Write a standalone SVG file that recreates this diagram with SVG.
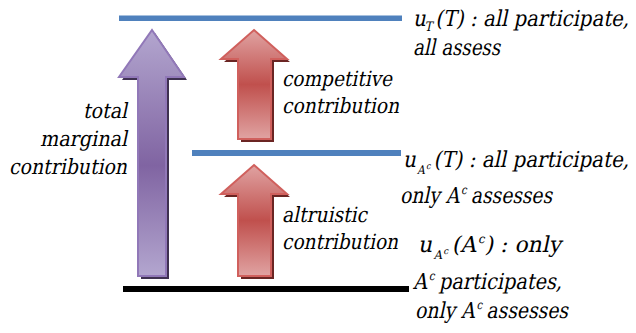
<svg xmlns="http://www.w3.org/2000/svg" width="636" height="333" viewBox="0 0 636 333">
<defs>
<linearGradient id="gP" x1="0" y1="0" x2="0" y2="1">
<stop offset="0" stop-color="#b3a6cf"/>
<stop offset="0.55" stop-color="#8064a2"/>
<stop offset="1" stop-color="#b3a6cf"/>
</linearGradient>
<linearGradient id="gR" x1="0" y1="0" x2="0" y2="1">
<stop offset="0" stop-color="#e0a3a2"/>
<stop offset="0.5" stop-color="#c0504d"/>
<stop offset="1" stop-color="#e0a3a2"/>
</linearGradient>
</defs>
<style>
text{font-size:22px;fill:#000}
.cap{font-size:21px}
.sub{font-size:13px}
.sup{font-size:12px}
.tiny{font-size:9px}
.ps{fill:#3f3151}
.pa{fill:url(#gP);stroke:#9178b8;stroke-width:2}
.rs{fill:#6b2523}
.ra{fill:url(#gR);stroke:#d0605d;stroke-width:2}
</style>
<g font-family="DejaVu Serif" font-style="normal">
<g id="level-T">
<rect x="119" y="15.5" width="283" height="5.5" fill="#4f81bd"/>
<text transform="translate(413,26) skewX(-12)" textLength="216" lengthAdjust="spacingAndGlyphs">u<tspan class="sub" dy="5">T</tspan><tspan dy="-5" dx="2">(T) : all participate,</tspan></text>
<text transform="translate(413,55) skewX(-12)" textLength="87" lengthAdjust="spacingAndGlyphs">all assess</text>
</g>
<g id="level-AcT">
<rect x="192" y="150" width="209" height="6" fill="#4f81bd"/>
<text transform="translate(403,167) skewX(-12)" textLength="226" lengthAdjust="spacingAndGlyphs">u<tspan class="sup" dy="7" dx="3">A</tspan><tspan class="tiny" dy="-5">c</tspan><tspan dy="-2" dx="3">(T) : all participate,</tspan></text>
<text transform="translate(400,203) skewX(-12)" textLength="152" lengthAdjust="spacingAndGlyphs">only A<tspan class="sup" dy="-9">c</tspan><tspan dy="9"> assesses</tspan></text>
</g>
<g id="level-AcAc">
<rect x="123" y="286" width="286" height="6" fill="#000"/>
<text transform="translate(418,252) skewX(-12)" textLength="143" lengthAdjust="spacingAndGlyphs">u<tspan class="sup" dy="7" dx="3">A</tspan><tspan class="tiny" dy="-5">c</tspan><tspan dy="-2" dx="3">(A</tspan><tspan class="sup" dy="-9">c</tspan><tspan dy="9" dx="2">) : only</tspan></text>
<text transform="translate(413,289) skewX(-12)" textLength="149" lengthAdjust="spacingAndGlyphs">A<tspan class="sup" dy="-9">c</tspan><tspan dy="9"> participates,</tspan></text>
<text transform="translate(415,318) skewX(-12)" textLength="153" lengthAdjust="spacingAndGlyphs">only A<tspan class="sup" dy="-9">c</tspan><tspan dy="9"> assesses</tspan></text>
</g>
<g id="connectors">
<g id="arrow-total">
<polygon class="ps" points="155,33 187,80 169,80 169,279 141,279 141,80 122,80"/>
<polygon class="pa" points="152,30 184,77 166,77 166,276 138,276 138,77 119,77"/>
<text class="cap" text-anchor="end" transform="translate(127,118) skewX(-12)" textLength="44" lengthAdjust="spacingAndGlyphs">total</text>
<text class="cap" text-anchor="end" transform="translate(127,146) skewX(-12)" textLength="87" lengthAdjust="spacingAndGlyphs">marginal</text>
<text class="cap" text-anchor="end" transform="translate(127,174) skewX(-12)" textLength="118" lengthAdjust="spacingAndGlyphs">contribution</text>
</g>
<g id="arrow-competitive">
<polygon class="rs" points="257,33 290,62 274,62 274,142 241,142 241,62 224,62"/>
<polygon class="ra" points="254,30 287,59 271,59 271,139 238,139 238,59 221,59"/>
<text class="cap" transform="translate(282,86) skewX(-12)" textLength="110" lengthAdjust="spacingAndGlyphs">competitive</text>
<text class="cap" transform="translate(282,113) skewX(-12)" textLength="117" lengthAdjust="spacingAndGlyphs">contribution</text>
</g>
<g id="arrow-altruistic">
<polygon class="rs" points="257,168 290,197 274,197 274,279 241,279 241,197 224,197"/>
<polygon class="ra" points="254,165 287,194 271,194 271,276 238,276 238,194 221,194"/>
<text class="cap" transform="translate(282,222) skewX(-12)" textLength="85" lengthAdjust="spacingAndGlyphs">altruistic</text>
<text class="cap" transform="translate(282,249) skewX(-12)" textLength="116" lengthAdjust="spacingAndGlyphs">contribution</text>
</g>
</g>
</g>
</svg>
